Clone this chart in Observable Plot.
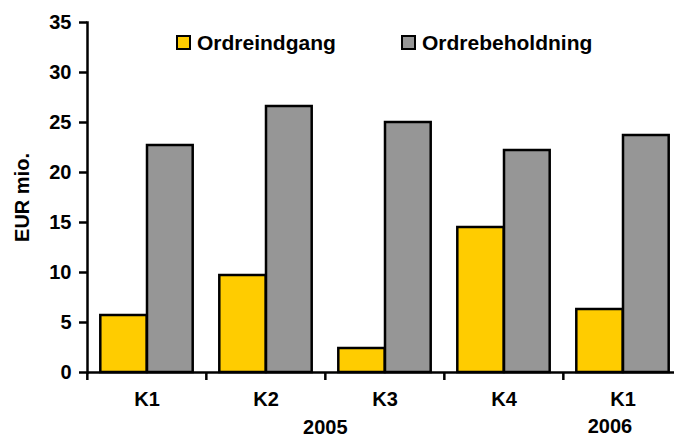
<!DOCTYPE html>
<html><head><meta charset="utf-8">
<script src="https://cdn.jsdelivr.net/npm/d3@7"></script>
<script src="https://cdn.jsdelivr.net/npm/@observablehq/plot@0.6"></script>
<style>
html,body{margin:0;padding:0;background:#fff;overflow:hidden;}
#wrap{position:relative;width:674px;height:442px;}
#wrap svg{overflow:hidden;display:block;}
.legend{position:absolute;top:32px;font:bold 21px "Liberation Sans",Arial,sans-serif;color:#000;display:flex;align-items:center;white-space:nowrap;line-height:1;}
.sw{width:11px;height:11px;border:2px solid #000;margin-right:6px;}
</style></head><body><div id="wrap"></div>
<script>
const quarters = ["K1", "K2", "K3", "K4", "K1"];
const years = ["2005", "2005", "2005", "2005", "2006"];
const ordreindgang = [5.7, 9.7, 2.4, 14.5, 6.3];
const ordrebeholdning = [22.7, 26.6, 25.0, 22.2, 23.7];
const yTicks = [0, 5, 10, 15, 20, 25, 30, 35];
const seriesNames = ["Ordreindgang", "Ordrebeholdning"];
const seriesColors = ["#FFCC00", "#969696"];

const keys = quarters.map((q, i) => q + " " + years[i]);
const data = keys.map((k, i) => ({key: k, q: quarters[i], inflow: ordreindgang[i], backlog: ordrebeholdning[i]}));
const yearLabels = [{year: "2005", at: keys[2]}];
const yearLabels2 = [{year: "2006", at: keys[4]}];

const font = '"Liberation Sans", Arial, sans-serif';
const x0 = 86.7, x1 = 683.3;
const step = (x1 - x0) / keys.length;

const chart = Plot.plot({
  width: 674, height: 442,
  marginLeft: 87, marginRight: 0, marginTop: 22, marginBottom: 70,
  style: {fontFamily: font, fontWeight: "bold", fontSize: "20px", color: "#000", background: "#fff"},
  x: {type: "band", domain: keys, range: [x0, x1], padding: 0, axis: null},
  y: {domain: [0, 35], axis: null},
  marks: [
    Plot.barY(data, {x: "key", y: "inflow", fill: seriesColors[0], stroke: "#000", strokeWidth: 2.5, insetLeft: 13.3, insetRight: 59.3}),
    Plot.barY(data, {x: "key", y: "backlog", fill: seriesColors[1], stroke: "#000", strokeWidth: 2.5, insetLeft: 60, insetRight: 13.3}),
    Plot.ruleY([0], {stroke: "#000", strokeWidth: 2.5}),
    Plot.frame({anchor: "left", stroke: "#000", strokeWidth: 2.5}),
    Plot.ruleX(keys, {x: d => d, dx: -step / 2, y1: 0, y2: 0, insetBottom: -8, stroke: "#000", strokeWidth: 2.5}),
    Plot.axisY({ticks: yTicks, tickSize: 8, tickPadding: 8, tickFormat: d => String(d), fontSize: 20, strokeWidth: 2.5,
      label: "EUR mio.", labelAnchor: "center", labelOffset: 73, labelArrow: "none"}),
    Plot.text(data, {x: "key", text: "q", frameAnchor: "bottom", dy: 33, fontSize: 20}),
    Plot.text(yearLabels, {x: "at", text: "year", frameAnchor: "bottom", dy: 61, dx: -step / 2, fontSize: 20}),
    Plot.text(yearLabels2, {x: "at", text: "year", frameAnchor: "bottom", dy: 60, dx: -13, fontSize: 20})
  ]
});
const wrap = document.getElementById("wrap");
wrap.appendChild(chart);

const legendLeft = [176, 401];
seriesNames.forEach((name, i) => {
  const d = document.createElement("div");
  d.className = "legend";
  d.style.left = legendLeft[i] + "px";
  const sw = document.createElement("span");
  sw.className = "sw";
  sw.style.background = seriesColors[i];
  d.appendChild(sw);
  d.appendChild(document.createTextNode(name));
  wrap.appendChild(d);
});
</script></body></html>
